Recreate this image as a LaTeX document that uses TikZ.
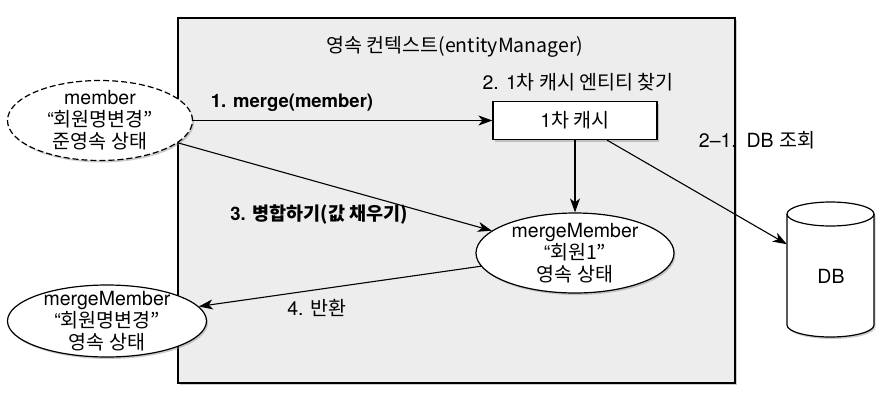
\documentclass[tikz,border=0pt]{standalone}
\usepackage{fontspec}
\setmainfont{TeX Gyre Heros}
\newfontfamily\kr[Scale=1.0]{Noto Sans CJK KR}
\usetikzlibrary{arrows.meta,shapes.geometric,shadows}
\newcommand\fsz{\fontsize{19.5}{22}\selectfont}
\newcommand\fbz{\fontsize{18.5}{21.5}\selectfont\bfseries}
\begin{document}
\begin{tikzpicture}[x=1pt,y=-1pt,
  every node/.style={font=\fsz},
  arr/.style={draw, line width=1.1pt, -{Stealth[length=14pt,width=10pt,inset=4pt]}},
  shd/.style={drop shadow={shadow xshift=1.5pt,shadow yshift=-2pt,opacity=.4}},
  ell/.style={ellipse, draw, fill=white, line width=1.2pt, inner sep=0pt, shd},
  txt/.style={align=center, inner sep=0pt},
  lbl/.style={inner sep=0pt},
  bl/.style={inner sep=0pt, font=\fbz},
]
\useasboundingbox (0,0) rectangle (893,402);
\node[draw, line width=1.5pt, fill=black!7, minimum width=557pt, minimum height=365pt, inner sep=0pt, shd] (ctx) at (456.5,200.5) {};
\node[lbl] (title) at (455,47) {\kr{영속 컨텍스트}(entityManager)};
\node[draw, fill=white, line width=1.2pt, minimum width=164pt, minimum height=38pt, shd] (cache) at (575,120.5) {1\kr{차 캐시}};
\node[ell, dashed, dash pattern=on 6pt off 3pt, minimum width=185pt, minimum height=80pt] (member) at (100,120.5) {};
\node[txt] (memberT) at (member) {member\\“\kr{회원명변경}”\\\kr{준영속 상태}};
\node[ell, minimum width=198pt, minimum height=80pt] (merge) at (575,253) {};
\node[txt] (mergeT) at (merge) {mergeMember\\“\kr{회원}1”\\\kr{영속 상태}};
\node[ell, minimum width=199pt, minimum height=72pt] (ret) at (107,321) {};
\node[txt] (retT) at (ret) {mergeMember\\“\kr{회원명변경}”\\\kr{영속 상태}};
\node[minimum width=87pt, minimum height=135pt, inner sep=0pt] (db) at (830.5,269.5) {};
\path[shd, fill=white, draw, line width=1.2pt] (787,214) -- (787,325)
  arc[start angle=180,end angle=360,x radius=43.5pt,y radius=12pt] -- (874,214)
  arc[start angle=0,end angle=180,x radius=43.5pt,y radius=12pt] -- cycle;
\draw[line width=1.2pt] (787,214) arc[start angle=180,end angle=360,x radius=43.5pt,y radius=12pt];
\node[lbl] (dbT) at (831,276) {DB};
\draw[arr] (member.east) -- (cache.west);
\draw[arr] (cache.south) -- (merge.north);
\draw[arr] (member.-16) -- (merge.165);
\draw[arr] (merge.188) -- (ret.9);
\draw[arr] ([xshift=32pt]cache.south) -- (db);
\node[bl] (l1) at (292,103) {1. merge(member)};
\node[lbl] (l2) at (578,82) {2. 1\kr{차 캐시 엔티티 찾기}};
\node[lbl] (l21) at (757,140) {2–1.\enspace DB \kr{조회}};
\node[bl] (l3) at (319,215) {3. \kr{병합하기}(\kr{값 채우기})};
\node[lbl] (l4) at (317,308) {4. \kr{반환}};
\end{tikzpicture}
\end{document}
